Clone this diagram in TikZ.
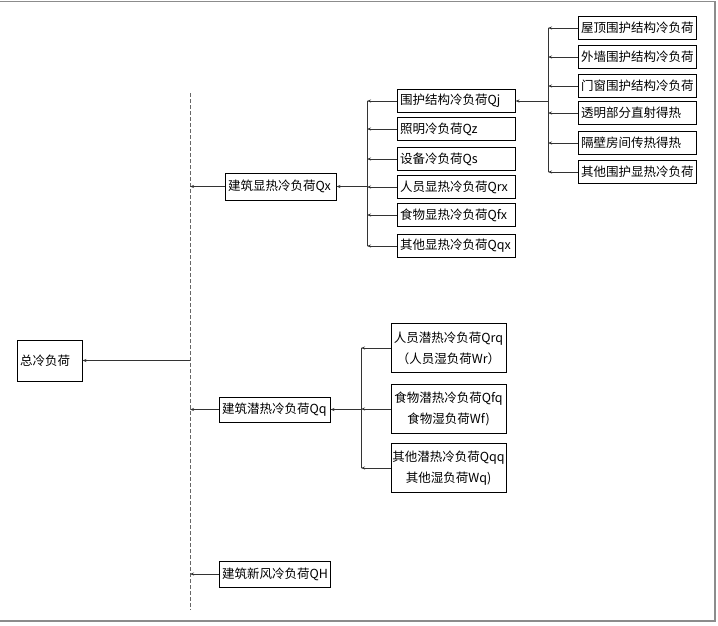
\documentclass[tikz,border=0pt]{standalone}
\usepackage{fontspec}
\setmainfont{Noto Sans CJK SC}
\usetikzlibrary{arrows.meta}
\begin{document}
\begin{tikzpicture}[x=1pt,y=-1pt,
  every node/.style={font=\fontsize{12.5}{14}\selectfont},
  box/.style={draw=black,line width=0.9pt,inner xsep=3pt,inner ysep=1pt,text width=112pt,align=left,minimum height=23pt},
  latbox/.style={draw=black,line width=0.9pt,inner sep=1pt,minimum width=115pt,minimum height=49pt,align=center,font=\fontsize{12.5}{21}\selectfont},
  topbox/.style={box,text width=105pt,minimum height=26pt},
  link/.style={draw=black!80,line width=0.9pt},
  arr/.style={link,-{Stealth[length=4pt,width=3pt]}},
  frame/.style={draw=black!45,line width=1.2pt}]
\useasboundingbox (0,0) rectangle (718,625);
% frame
\draw[frame] (0,1.5) -- (715,1.5) -- (715,621) -- (0,621);
% main dashed line
\coordinate (d1) at (190,93);
\coordinate (d2) at (190,610);
\draw[draw=black!60,line width=1pt,dash pattern=on 4pt off 2pt] (d1) -- (d2);
% total
\node[box,text width=59pt,minimum height=41pt] (total) at (49.5,360.5) {总冷负荷};
\draw[arr] (total.east -| d1) -- (total.east);
% level 1
\node[topbox,minimum height=27pt] (qx) at (280.5,186.5) {建筑显热冷负荷Qx};
\node[topbox,minimum height=25pt] (qq) at (274.5,409.5) {建筑潜热冷负荷Qq};
\node[topbox] (qh) at (274.5,574) {建筑新风冷负荷QH};
\foreach \n in {qx,qq,qh} \draw[arr] (\n.west) -- (\n.west -| d1);
% sensible children
\coordinate (bx1) at (367,101);
\coordinate (bx2) at (367,246);
\node[box] (qj) at (456,101) {围护结构冷负荷Qj};
\node[box] (qz) at (456,129) {照明冷负荷Qz};
\node[box] (qs) at (456,159) {设备冷负荷Qs};
\node[box] (qrx) at (456,187) {人员显热冷负荷Qrx};
\node[box] (qfx) at (456,215) {食物显热冷负荷Qfx};
\node[box] (qqx) at (456,246) {其他显热冷负荷Qqx};
\draw[link] (bx1) -- (bx2);
\draw[arr] (qx.east -| bx1) -- (qx.east);
\foreach \n in {qj,qz,qs,qrx,qfx,qqx} \draw[arr] (\n.west) -- (\n.west -| bx1);
% envelope children
\coordinate (bj1) at (548,28);
\coordinate (bj2) at (548,172);
\node[box] (r1) at (637,28) {屋顶围护结构冷负荷};
\node[box] (r2) at (637,57) {外墙围护结构冷负荷};
\node[box] (r3) at (637,86) {门窗围护结构冷负荷};
\node[box] (r4) at (637,113) {透明部分直射得热};
\node[box] (r5) at (637,143) {隔壁房间传热得热};
\node[box] (r6) at (637,172) {其他围护显热冷负荷};
\draw[link] (bj1) -- (bj2);
\draw[arr] (qj.east -| bj1) -- (qj.east);
\foreach \n in {r1,r2,r3,r4,r5,r6} \draw[arr] (\n.west) -- (\n.west -| bj1);
% latent children
\coordinate (bq1) at (361,348);
\coordinate (bq2) at (361,468);
\node[latbox] (l1) at (448.5,348) {人员潜热冷负荷Qrq\\（人员湿负荷Wr）};
\node[latbox] (l2) at (448.5,409) {食物潜热冷负荷Qfq\\食物湿负荷Wf)};
\node[latbox] (l3) at (448.5,468) {其他潜热冷负荷Qqq\\其他湿负荷Wq)};
\draw[link] (bq1) -- (bq2);
\draw[arr] (qq.east -| bq1) -- (qq.east);
\foreach \n in {l1,l2,l3} \draw[arr] (\n.west) -- (\n.west -| bq1);
\end{tikzpicture}
\end{document}
